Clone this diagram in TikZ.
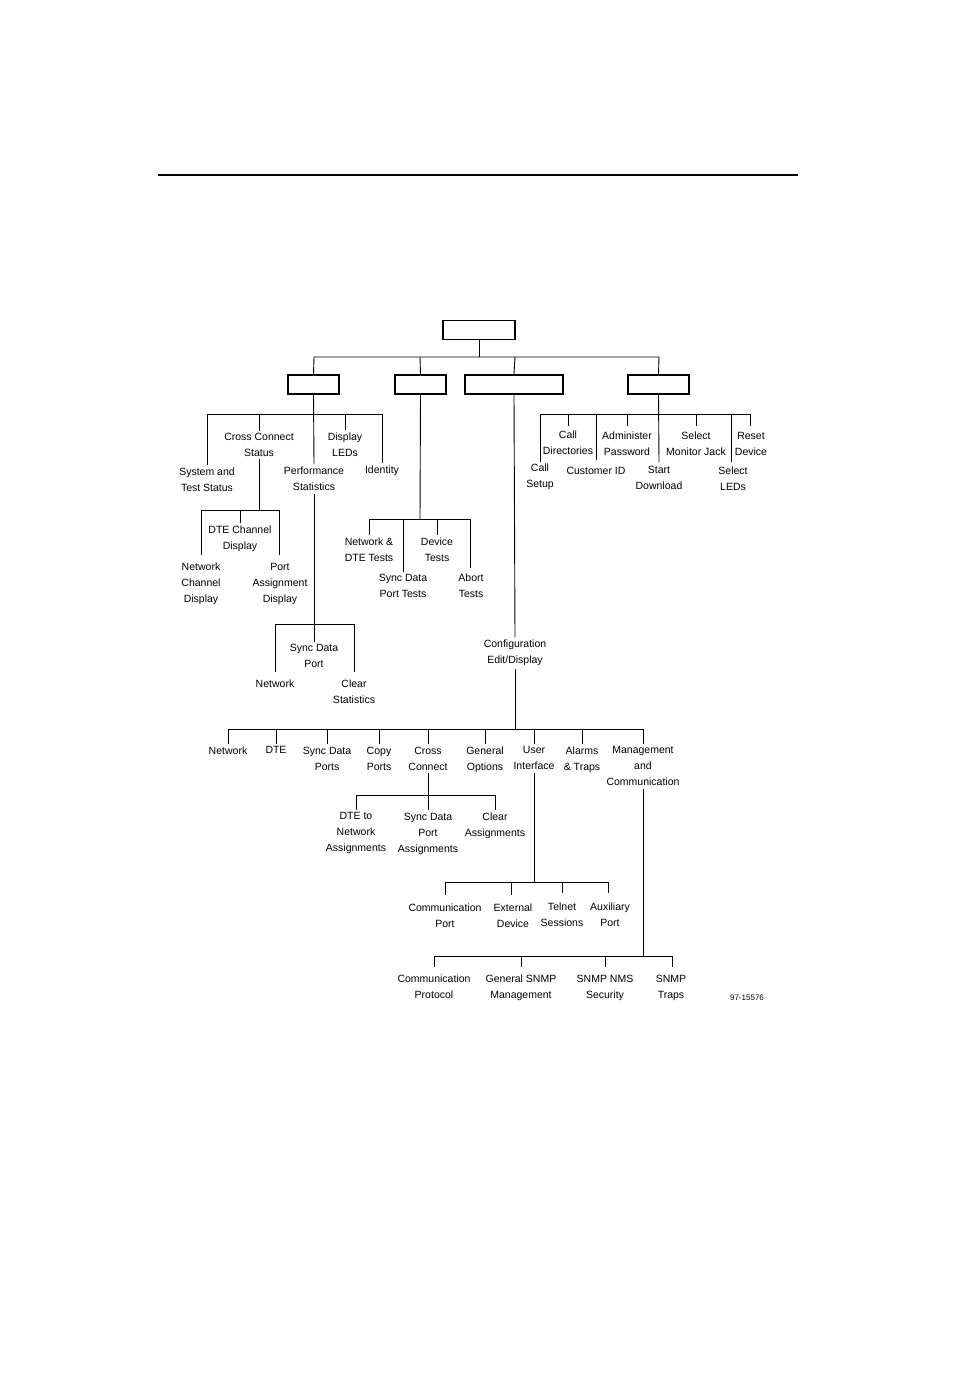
\documentclass[tikz,border=0pt]{standalone}
\usepackage{fontspec}
\setmainfont{Liberation Sans}
\begin{document}
\begin{tikzpicture}[x=1pt,y=-1pt,
  lbl/.style={align=center,inner sep=2.5pt,font=\fontsize{10.5}{16}\selectfont},
  box/.style={draw,line width=1.6pt,minimum height=19pt,inner sep=0pt},
  ln/.style={line width=0.9pt}]
\useasboundingbox (0,0) rectangle (954,1382);
\draw[line width=1.6pt] (158,175) -- (798,175);
% boxes
\node[box,minimum width=72pt] (root) at (479,330) {};
\node[box,minimum width=51pt] (b1) at (313.5,384.5) {};
\node[box,minimum width=51pt] (b2) at (420.5,384.5) {};
\node[box,minimum width=98pt] (b3) at (514,384.5) {};
\node[box,minimum width=61pt] (b4) at (658.5,384.5) {};
\draw[ln] (root.south) -- (479,357);
\draw[ln] (b1.north) -- (314,357) -- (659,357) -- (b4.north);
\draw[ln] (b2.north) -- (420,357);
\draw[ln] (b3.north) -- (515,357);
% branch 1
\node[lbl] (sts) at (207,480) {System and\\Test Status};
\node[lbl] (ccs) at (259,445) {Cross Connect\\Status};
\node[lbl] (ps) at (314,479) {Performance\\Statistics};
\node[lbl] (dl) at (345,445) {Display\\LEDs};
\node[lbl] (id) at (382,471) {Identity};
\draw[ln] (b1.south) -- (ps.north);
\draw[ln] (sts.north) |- (382,414) -- (id.north);
\draw[ln] (ccs.north) -- (259,414);
\draw[ln] (dl.north) -- (345,414);
\node[lbl] (ncd) at (201,584) {Network\\Channel\\Display};
\node[lbl] (dcd) at (240,539) {DTE Channel\\Display};
\node[lbl] (pad) at (280,584) {Port\\Assignment\\Display};
\draw[ln] (ccs.south) -- (259,510);
\draw[ln] (201,555) |- (279,510) -- (279,555);
\draw[ln] (dcd.north) -- (240,510);
\node[lbl] (sdp) at (314,656) {Sync Data\\Port};
\node[lbl] (net1) at (275,684) {Network};
\node[lbl] (cls) at (354,692) {Clear\\Statistics};
\draw[ln] (ps.south) -- (314,624);
\draw[ln] (275,672) |- (354,624) -- (354,672);
\draw[ln] (sdp.north) -- (314,624);
% branch 2
\node[lbl] (ndt) at (369,550) {Network \&\\DTE Tests};
\node[lbl] (sdpt) at (403,586) {Sync Data\\Port Tests};
\node[lbl] (dt) at (437,550) {Device\\Tests};
\node[lbl] (at) at (471,586) {Abort\\Tests};
\draw[ln] (b2.south) -- (420,519);
\draw[ln] (ndt.north) |- (470,519) -- (470,568);
\draw[ln] (403,519) -- (sdpt.north);
\draw[ln] (dt.north) -- (437,519);
% branch 3
\node[lbl] (ced) at (515,653) {Configuration\\Edit/Display};
\draw[ln] (b3.south) -- (ced.north);
\draw[ln] (ced.south) -- (515,729);
\node[lbl,anchor=north] (c1) at (228,744) {Network};
\node[lbl,anchor=north] (c2) at (276,744) {DTE};
\node[lbl,anchor=north] (c3) at (327,744) {Sync Data\\Ports};
\node[lbl,anchor=north] (c4) at (379,744) {Copy\\Ports};
\node[lbl,anchor=north] (c5) at (428,744) {Cross\\Connect};
\node[lbl,anchor=north] (c6) at (485,744) {General\\Options};
\node[lbl,anchor=north] (c7) at (534,744) {User\\Interface};
\node[lbl,anchor=north] (c8) at (582,744) {Alarms\\\& Traps};
\node[lbl,anchor=north] (c9) at (643,744) {Management\\and\\Communication};
\draw[ln] (c1.north) |- (643,729) -- (c9.north);
\foreach \n/\x in {c2/276,c3/327,c4/379,c5/428,c6/485,c7/534,c8/582}
  \draw[ln] (\n.north) -- (\x,729);
% cross connect
\node[lbl,anchor=north] (x1) at (356,810) {DTE to\\Network\\Assignments};
\node[lbl,anchor=north] (x2) at (428,810) {Sync Data\\Port\\Assignments};
\node[lbl,anchor=north] (x3) at (495,810) {Clear\\Assignments};
\draw[ln] (c5.south) -- (428,795);
\draw[ln] (x1.north) |- (495,795) -- (x3.north);
\draw[ln] (x2.north) -- (428,795);
% user interface
\node[lbl,anchor=north] (u1) at (445,901) {Communication\\Port};
\node[lbl,anchor=north] (u2) at (513,901) {External\\Device};
\node[lbl,anchor=north] (u3) at (562,900) {Telnet\\Sessions};
\node[lbl,anchor=north] (u4) at (610,900) {Auxiliary\\Port};
\draw[ln] (c7.south) -- (534,882);
\draw[ln] (445,895) |- (608,882) -- (608,893);
\draw[ln] (511,895) -- (511,882);
\draw[ln] (562,893) -- (562,882);
% management
\node[lbl,anchor=north] (m1) at (434,972) {Communication\\Protocol};
\node[lbl,anchor=north] (m2) at (521,972) {General SNMP\\Management};
\node[lbl,anchor=north] (m3) at (605,972) {SNMP NMS\\Security};
\node[lbl,anchor=north] (m4) at (671,972) {SNMP\\Traps};
\draw[ln] (c9.south) -- (643,956);
\draw[ln] (434,967) |- (672,956) -- (672,967);
\draw[ln] (521,967) -- (521,956);
\draw[ln] (605,967) -- (605,956);
% branch 4
\node[lbl] (cs) at (540,477) {Call\\Setup};
\node[lbl] (cd) at (568,443) {Call\\Directories};
\node[lbl] (ci) at (596,471) {Customer ID};
\node[lbl] (ap) at (627,444) {Administer\\Password};
\node[lbl] (sd) at (659,478) {Start\\Download};
\node[lbl] (smj) at (696,444) {Select\\Monitor Jack};
\node[lbl] (sl) at (733,479) {Select\\LEDs};
\node[lbl] (rd) at (751,444) {Reset\\Device};
\draw[ln] (b4.south) -- (659,462);
\draw[ln] (540,462) |- (750,414) -- (750,426);
\draw[ln] (568,426) -- (568,414);
\draw[ln] (596,460) -- (596,414);
\draw[ln] (627,426) -- (627,414);
\draw[ln] (696,426) -- (696,414);
\draw[ln] (731,462) -- (731,414);
\node[font=\fontsize{8}{10}\selectfont,inner sep=0pt] (fig) at (747,998) {97-15576};
\end{tikzpicture}
\end{document}
